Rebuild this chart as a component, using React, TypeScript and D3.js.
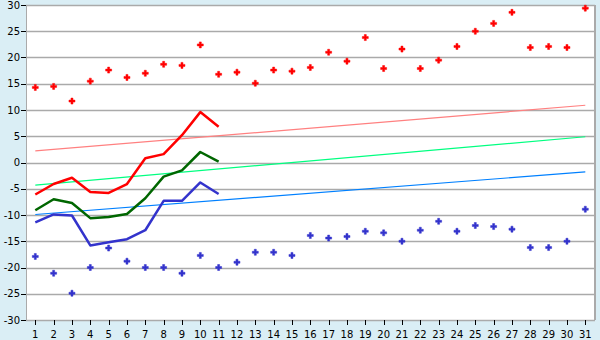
import React from "react";
import * as d3 from "d3";

const days = d3.range(1, 32);
const yTicks = [-30, -25, -20, -15, -10, -5, 0, 5, 10, 15, 20, 25, 30];

const maxPoints = [14.3, 14.5, 11.7, 15.5, 17.6, 16.2, 17.0, 18.7, 18.5, 22.4, 16.8, 17.2, 15.1, 17.6, 17.4, 18.1, 21.0, 19.3, 23.8, 17.9, 21.6, 17.9, 19.5, 22.1, 25.0, 26.5, 28.6, 21.9, 22.1, 21.9, 29.4];
const minPoints = [-17.9, -21.1, -24.9, -20.0, -16.3, -18.8, -20.0, -20.0, -21.1, -17.7, -20.0, -19.0, -17.1, -17.1, -17.7, -13.9, -14.4, -14.1, -13.1, -13.4, -15.0, -12.9, -11.2, -13.1, -12.0, -12.2, -12.7, -16.2, -16.2, -15.0, -8.9];

const maxLine = [-6.1, -4.1, -2.9, -5.6, -5.8, -4.1, 0.8, 1.6, 5.2, 9.6, 6.8];
const meanLine = [-9.1, -7.0, -7.7, -10.6, -10.4, -9.8, -6.8, -2.7, -1.5, 2.0, 0.15];
const minLine = [-11.4, -9.9, -10.1, -15.8, -15.2, -14.6, -12.9, -7.3, -7.3, -3.8, -6.0];

const trendDays = [1, 31];
const trendMax = [2.2, 10.9];
const trendMean = [-4.3, 4.9];
const trendMin = [-9.9, -1.8];

const W = 600, H = 340;
const left = 26, right = 595, top = 5, bottom = 320;

export default function App() {
  const x = d3.scaleLinear().domain([1, 31]).range([35.3, 585.3]);
  const y = d3.scaleLinear().domain([-30, 30]).range([bottom, top]);
  const line = d3.line<[number, number]>().x(d => x(d[0])).y(d => y(d[1]));
  const cross = d3.symbol().type(d3.symbolCross).size(20)() as string;

  const seriesLines = [
    { vals: maxLine, color: "#ff0000" },
    { vals: meanLine, color: "#006600" },
    { vals: minLine, color: "#3333cc" },
  ];
  const trends = [
    { vals: trendMax, color: "#ff8080" },
    { vals: trendMean, color: "#00ff80" },
    { vals: trendMin, color: "#0080ff" },
  ];
  const fmt = (v: number) => (v < 0 ? "-" + Math.abs(v) : String(v));

  return (
    <div style={{ position: "fixed", left: 0, top: 0 }}>
      <svg width={W} height={H} style={{ display: "block" }} fontFamily="DejaVu Sans" fontSize={10}>
        <rect x={0} y={0} width={W} height={H} fill="#daeef5" />
        <rect x={left} y={top} width={right - left} height={bottom - top} fill="#ffffff" />
        {yTicks.map(t => (
          <g key={t}>
            <line x1={left} x2={right} y1={Math.round(y(t)) + 0.5} y2={Math.round(y(t)) + 0.5} stroke="#aaaaaa" strokeWidth={1.5} />
            <line x1={21} x2={left} y1={Math.round(y(t)) + 0.5} y2={Math.round(y(t)) + 0.5} stroke="#000" strokeWidth={1} />
            <text x={20} y={y(t)} dy="0.36em" textAnchor="end" fill="#000">{fmt(t)}</text>
          </g>
        ))}
        <line x1={right} x2={right} y1={top} y2={bottom} stroke="#aaaaaa" strokeWidth={2} />
        <line x1={left + 0.5} x2={left + 0.5} y1={top} y2={bottom} stroke="#aaaaaa" strokeWidth={1} />
        {days.map(d => (
          <g key={d}>
            <line x1={Math.round(x(d)) + 0.5} x2={Math.round(x(d)) + 0.5} y1={bottom} y2={bottom + 5} stroke="#000" strokeWidth={1} />
            <text x={x(d)} y={338} textAnchor="middle" fill="#000">{d}</text>
          </g>
        ))}
        {trends.map((t, i) => (
          <path key={i} d={line(trendDays.map((d, j) => [d, t.vals[j]]) as [number, number][]) || ""} fill="none" stroke={t.color} strokeWidth={1.2} />
        ))}
        {seriesLines.map((s, i) => (
          <path key={i} d={line(s.vals.map((v, j) => [days[j], v]) as [number, number][]) || ""} fill="none" stroke={s.color} strokeWidth={2.5} strokeLinejoin="round" />
        ))}
        {maxPoints.map((v, i) => (
          <path key={"mx" + i} d={cross} transform={`translate(${x(days[i])},${y(v)})`} fill="#ff0000" stroke="#ff0000" strokeWidth={0.5} />
        ))}
        {minPoints.map((v, i) => (
          <path key={"mn" + i} d={cross} transform={`translate(${x(days[i])},${y(v)})`} fill="#3333cc" stroke="#3333cc" strokeWidth={0.5} />
        ))}
      </svg>
    </div>
  );
}
